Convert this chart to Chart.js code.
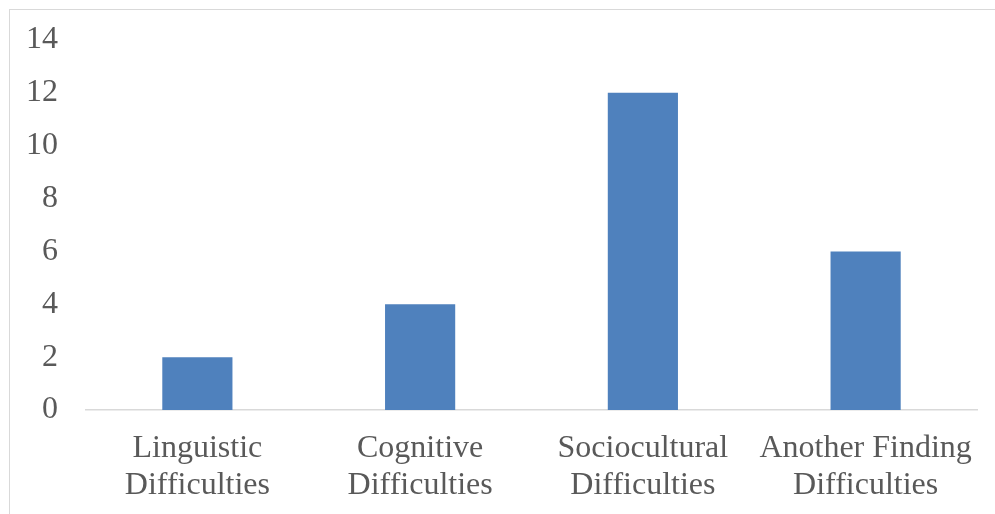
<!DOCTYPE html>
<html>
<head>
<meta charset="utf-8">
<script src="https://cdn.jsdelivr.net/npm/chart.js@4"></script>
<style>
  html, body { margin: 0; padding: 0; background: #fff; }
  #wrap { position: relative; width: 995px; height: 514px; overflow: hidden; }
  #frame { position: absolute; left: 9px; top: 9px; width: 1000px; height: 520px;
           border-left: 1px solid #d9d9d9; border-top: 1px solid #d9d9d9; box-sizing: border-box; }
  canvas { position: absolute; left: 0; top: 0; }
</style>
</head>
<body>
<div id="wrap">
  <div id="frame"></div>
  <canvas id="chart" width="995" height="514"></canvas>
</div>
<script>
// Difficulty categories and their counts
const categories = [
  ['Linguistic', 'Difficulties'],
  ['Cognitive', 'Difficulties'],
  ['Sociocultural', 'Difficulties'],
  ['Another Finding', 'Difficulties']
];
const counts = [2, 4, 12, 6];
const yTicks = [0, 2, 4, 6, 8, 10, 12, 14];

const textColor = '#595959';
const serif = "'Liberation Serif', 'Times New Roman', serif";

new Chart(document.getElementById('chart'), {
  type: 'bar',
  data: {
    labels: categories,
    datasets: [{
      data: counts,
      backgroundColor: '#4F81BD',
      borderWidth: 0,
      categoryPercentage: 1,
      barPercentage: 0.315
    }]
  },
  options: {
    responsive: false,
    animation: false,
    events: [],
    layout: { padding: { left: 0, right: 18, top: 40, bottom: 0 } },
    plugins: { legend: { display: false }, tooltip: { enabled: false } },
    scales: {
      x: {
        afterFit: (scale) => { scale.height = 104; },
        grid: { display: false, drawTicks: false },
        border: { display: true, color: '#d9d9d9', width: 1.5 },
        ticks: {
          color: textColor,
          font: { family: serif, size: 32, lineHeight: 1.15 },
          padding: 20,
          maxRotation: 0,
          autoSkip: false
        }
      },
      y: {
        min: 0,
        max: 14,
        afterBuildTicks: (scale) => { scale.ticks = yTicks.map(v => ({ value: v })); },
        afterFit: (scale) => {
          scale.width = 86;
          scale.paddingTop = 0;
          scale.paddingBottom = 0;
        },
        grid: { display: false, drawTicks: false },
        border: { display: false },
        ticks: {
          color: textColor,
          font: { family: serif, size: 32 },
          padding: 28
        }
      }
    }
  }
});
</script>
</body>
</html>
